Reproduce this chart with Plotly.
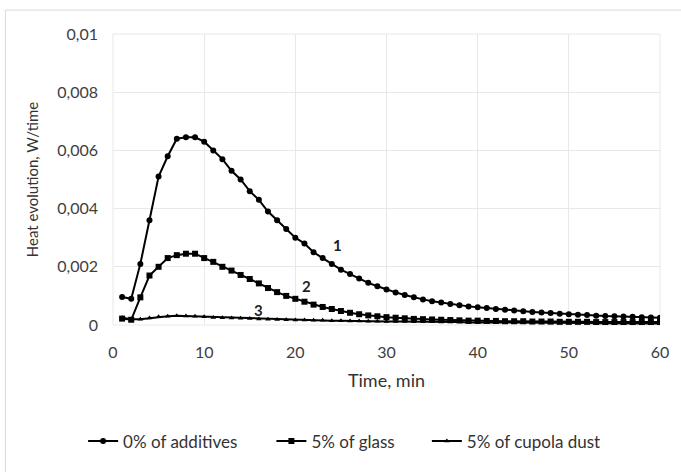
import plotly.graph_objects as go

time_min = list(range(1, 61))

additives_0 = [0.00096, 0.00090, 0.0021, 0.0036, 0.0051, 0.0058, 0.0064, 0.00645, 0.00645, 0.0063,
               0.0060, 0.0057, 0.0053, 0.0050, 0.0046, 0.0043, 0.0039, 0.0036, 0.0033, 0.0030,
               0.0028, 0.0025, 0.0023, 0.0021, 0.0019, 0.00175, 0.0016, 0.00145, 0.00133, 0.00122,
               0.00112, 0.00103, 0.00095, 0.00088, 0.00082, 0.00077, 0.00072, 0.00068, 0.00064, 0.00061,
               0.00058, 0.00055, 0.00052, 0.00050, 0.00047, 0.00045, 0.00043, 0.00041, 0.00039, 0.00037,
               0.00035, 0.00034, 0.00032, 0.00031, 0.00030, 0.00029, 0.00028, 0.00027, 0.00026, 0.00025]

glass_5 = [0.00022, 0.00018, 0.00095, 0.0017, 0.0020, 0.0023, 0.0024, 0.00245, 0.00245, 0.0023,
           0.00217, 0.0020, 0.00187, 0.00172, 0.00158, 0.00143, 0.00127, 0.00113, 0.00100, 0.00090,
           0.00080, 0.00070, 0.00062, 0.00055, 0.00048, 0.00042, 0.00037, 0.00033, 0.00030, 0.00027,
           0.00025, 0.00023, 0.00021, 0.00020, 0.00019, 0.00018, 0.00017, 0.00016, 0.00015, 0.00015,
           0.00014, 0.00014, 0.00013, 0.00013, 0.00013, 0.00012, 0.00012, 0.00012, 0.00011, 0.00011,
           0.00011, 0.00011, 0.00010, 0.00010, 0.00010, 0.00010, 0.00010, 0.00010, 0.00010, 0.00010]

cupola_dust_5 = [0.00025, 0.00020, 0.00020, 0.00024, 0.00028, 0.00030, 0.00032, 0.00031, 0.00030, 0.00028,
                 0.00026, 0.00025, 0.00024, 0.00023, 0.00022, 0.00021, 0.00020, 0.00019, 0.00018, 0.00017,
                 0.00017, 0.00016, 0.00016, 0.00015, 0.00015, 0.00014, 0.00014, 0.00013, 0.00013, 0.00012,
                 0.00012, 0.00012, 0.00011, 0.00011, 0.00011, 0.00010, 0.00010, 0.00010, 0.00009, 0.00009,
                 0.00009, 0.00009, 0.00008, 0.00008, 0.00008, 0.00008, 0.00008, 0.00007, 0.00007, 0.00007,
                 0.00007, 0.00007, 0.00006, 0.00006, 0.00006, 0.00006, 0.00006, 0.00005, 0.00005, 0.00005]

series_names = ["0% of additives", "5% of glass", "5% of cupola dust"]
y_tick_vals = [0, 0.002, 0.004, 0.006, 0.008, 0.01]
y_tick_text = ["0", "0,002", "0,004", "0,006", "0,008", "0,01"]
x_tick_vals = [0, 10, 20, 30, 40, 50, 60]
curve_labels = ["1", "2", "3"]
label_x = [24.6, 21.2, 16.0]
label_y = [0.00275, 0.00135, 0.00052]

FONT = "Lato, 'Open Sans', sans-serif"

L, R, T, B = 113, 19, 34, 146
W, H = 681, 472
pw, ph = W - L - R, H - T - B

fig = go.Figure()
symbols = ["circle", "square", "triangle-up"]
sizes = [6, 6, 5]
legend_ids = ["legend", "legend2", "legend3"]
legend_px = [83, 272, 428]
for name, ys, sym, sz, lid in zip(series_names, [additives_0, glass_5, cupola_dust_5], symbols, sizes, legend_ids):
    fig.add_trace(go.Scatter(
        x=time_min, y=ys, name=name, mode="lines+markers", legend=lid,
        line=dict(color="black", width=2),
        marker=dict(symbol=sym, size=sz, color="black"),
    ))

for t, lx, ly in zip(curve_labels, label_x, label_y):
    fig.add_annotation(x=lx, y=ly, text="<b>" + t + "</b>", showarrow=False,
                       font=dict(family=FONT, size=15, color="#1f1f1f"))

fig.add_shape(type="rect", xref="paper", yref="paper",
              x0=(5 - L) / pw, x1=(700 - L) / pw,
              y0=-(490 - (H - B)) / ph, y1=((H - B) - 10) / ph,
              line=dict(color="#d9d9d9", width=1), fillcolor="rgba(0,0,0,0)", layer="below")

legend_common = dict(orientation="h", xanchor="left", y=-0.40, yanchor="middle",
                     font=dict(family=FONT, size=17, color="#333333"),
                     itemwidth=30, bgcolor="rgba(0,0,0,0)")
legends = {}
for lid, px in zip(legend_ids, legend_px):
    legends[lid] = dict(legend_common, x=(px - L) / pw)

fig.update_layout(
    width=W, height=H,
    margin=dict(l=L, r=R, t=T, b=B),
    paper_bgcolor="white", plot_bgcolor="white",
    font=dict(family=FONT, color="#404040"),
    showlegend=True,
    **legends,
    xaxis=dict(range=[0, 60], tickvals=x_tick_vals, showgrid=True, gridcolor="#e8e8e8",
               zeroline=False, showline=False, ticks="", ticklabelstandoff=16,
               tickfont=dict(size=16, color="#404040"),
               title=dict(text="Time, min", font=dict(size=18, color="#333333"), standoff=14)),
    yaxis=dict(range=[0, 0.01], tickvals=y_tick_vals, ticktext=y_tick_text, showgrid=True,
               gridcolor="#e8e8e8", zeroline=False, showline=False, ticks="", ticklabelstandoff=14,
               tickfont=dict(size=16, color="#404040"),
               title=dict(text="Heat evolution, W/time", font=dict(size=15, color="#333333"), standoff=14)),
)
fig.add_shape(type="rect", xref="paper", yref="paper", x0=0, x1=1, y0=0, y1=1,
              line=dict(color="#e8e8e8", width=1), layer="below")

fig.write_html("out.html")
